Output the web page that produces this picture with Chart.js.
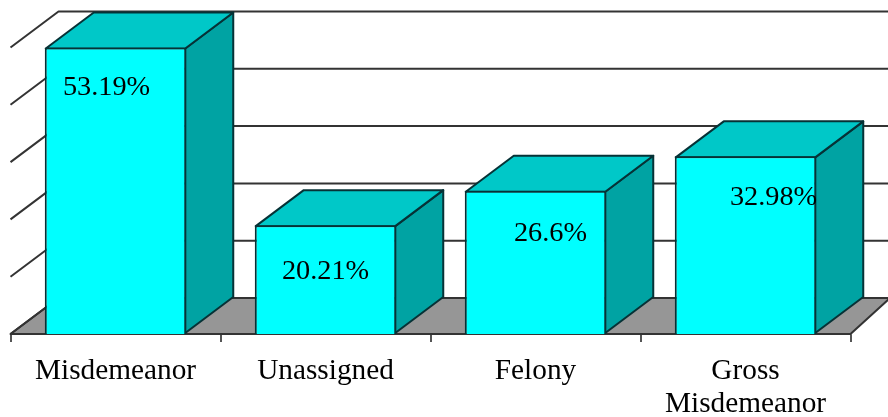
<!DOCTYPE html>
<html>
<head>
<meta charset="utf-8">
<title>Offense levels</title>
<script src="https://cdn.jsdelivr.net/npm/chart.js@4"></script>
<style>
  html, body { margin: 0; padding: 0; background: #fff; overflow: hidden; }
  canvas { display: block; }
</style>
</head>
<body>
<canvas id="grafico" width="888" height="417"></canvas>
<script>
const categories = ['Misdemeanor', 'Unassigned', 'Felony', ['Gross', 'Misdemeanor']];
const values = [53.19, 20.21, 26.6, 32.98];
const yTicks = [0, 10.638, 21.276, 31.914, 42.552, 53.19];

// 3D look
const depthX = 48;
const depthY = 36;
const edge = '#063236';
const wallLine = '#333333';
const labelFont = '28.3px "Liberation Serif"';
// the value labels are not centred in the original
const labelShiftX = [-9, 0, 15, 28];
const labelShiftY = [40, 46, 43, 41];

function poly(ctx, pts, fill, stroke, lw) {
    ctx.beginPath();
    pts.forEach((p, i) => i ? ctx.lineTo(p[0], p[1]) : ctx.moveTo(p[0], p[1]));
    ctx.closePath();
    ctx.fillStyle = fill;
    ctx.fill();
    ctx.strokeStyle = stroke;
    ctx.lineWidth = lw;
    ctx.lineJoin = 'round';
    ctx.stroke();
}

const box3d = {
    id: 'box3d',
    beforeDatasetsDraw(chart) {
        const ctx = chart.ctx;
        const area = chart.chartArea;
        const y = chart.scales.y;
        const w = chart.width;
        const base = y.getPixelForValue(0);
        ctx.save();

        // floor
        poly(ctx, [[area.left, base], [area.left + depthX, base - depthY], [w + 2, base - depthY],
                   [w + 2, base - depthY], [area.right, base]], '#969696', '#333333', 2);

        // grid on the wall
        ctx.strokeStyle = wallLine;
        ctx.lineWidth = 2;
        yTicks.forEach(t => {
            const py = y.getPixelForValue(t);
            ctx.beginPath();
            ctx.moveTo(area.left, py);
            ctx.lineTo(area.left + depthX, py - depthY);
            ctx.lineTo(w, py - depthY);
            ctx.stroke();
        });

        // side and top of each bar (chart.js draws the border inside the bar)
        chart.getDatasetMeta(0).data.forEach(bar => {
            const half = bar.width / 2 - 1;
            const l = bar.x - half;
            const r = bar.x + half;
            const top = bar.y + 1;
            const bottom = bar.base - 1;
            poly(ctx, [[r, top], [r + depthX, top - depthY], [r + depthX, bottom - depthY], [r, bottom]],
                 '#00a3a3', edge, 2);
            poly(ctx, [[l, top], [l + depthX, top - depthY], [r + depthX, top - depthY], [r, top]],
                 '#00c8c8', edge, 2);
        });
        ctx.restore();
    },
    afterDatasetsDraw(chart) {
        const ctx = chart.ctx;
        ctx.save();
        ctx.font = labelFont;
        ctx.fillStyle = '#000';
        ctx.textAlign = 'center';
        ctx.textBaseline = 'middle';
        chart.getDatasetMeta(0).data.forEach((bar, i) => {
            ctx.fillText(values[i] + '%', bar.x + labelShiftX[i], bar.y + labelShiftY[i]);
        });
        ctx.restore();
    }
};

new Chart(document.getElementById('grafico').getContext('2d'), {
    type: 'bar',
    data: {
        labels: categories,
        datasets: [{
            data: values,
            backgroundColor: '#00ffff',
            borderColor: edge,
            borderWidth: 2,
            barPercentage: 141.5 / 210,
            categoryPercentage: 1
        }]
    },
    options: {
        responsive: false,
        animation: false,
        layout: { padding: { left: 10.5, right: 37.5, top: 47.5, bottom: 0 } },
        plugins: { legend: { display: false }, tooltip: { enabled: false } },
        scales: {
            x: {
                afterFit(scale) { scale.height = 83; },
                grid: { drawOnChartArea: false, tickLength: 8, color: '#555555', lineWidth: 2 },
                border: { color: '#808080', width: 2 },
                ticks: {
                    color: '#000',
                    font: { family: 'Liberation Serif', size: 29.3, lineHeight: 1.12 },
                    padding: 13,
                    maxRotation: 0,
                    autoSkip: false
                }
            },
            y: {
                display: false,
                min: 0,
                max: yTicks[yTicks.length - 1]
            }
        }
    },
    plugins: [box3d]
});
</script>
</body>
</html>
